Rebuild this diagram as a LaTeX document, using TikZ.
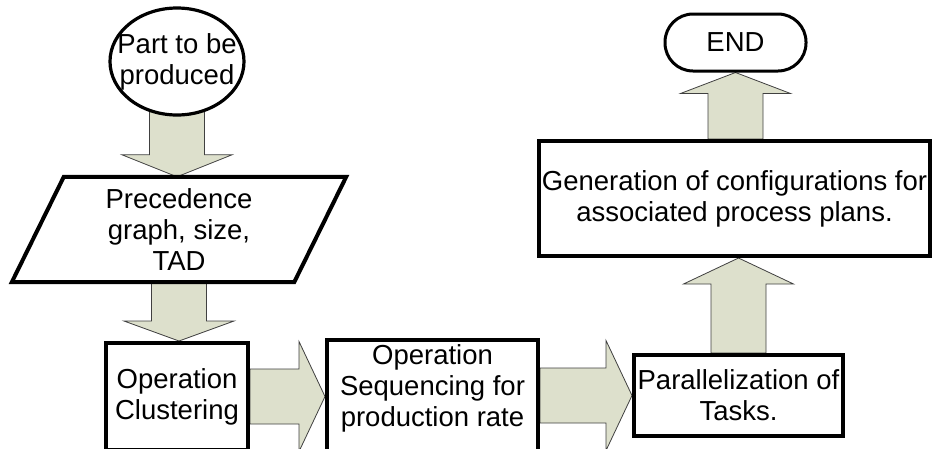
\documentclass[tikz,border=0pt]{standalone}
\usepackage{fontspec}
\setmainfont{Liberation Sans}
\usetikzlibrary{calc}
\pgfdeclarelayer{arrows}
\pgfdeclarelayer{shapes}
\pgfsetlayers{arrows,shapes,main}
\definecolor{arrowfill}{RGB}{221,224,204}
\tikzset{
  stepbox/.style={draw, line width=4pt, fill=white, inner sep=0pt, align=center},
  txt/.style={inner sep=0pt, align=center},
  fatarrow/.style={draw=black!75, line width=0.8pt, fill=arrowfill, line join=miter},
}
% \blockarrow{start}{tip}{head length}: wide hollow arrow with a fixed shaft and head width
\newcommand\blockarrow[3]{%
  \coordinate (hb) at ($(#2)!#3pt!(#1)$);
  \draw[fatarrow] ($(#1)!27.5pt!90:(#2)$) -- ($(hb)!27.5pt!-90:(#1)$)
    -- ($(hb)!55pt!-90:(#1)$) -- (#2) -- ($(hb)!55pt!90:(#1)$)
    -- ($(hb)!27.5pt!90:(#1)$) -- ($(#1)!27.5pt!-90:(#2)$) -- cycle;}
\begin{document}
\begin{tikzpicture}[x=1pt, y=-1pt, font=\fontsize{27.5}{31}\selectfont]
\useasboundingbox (0,0) rectangle (933,448);
\clip (0,0) rectangle (933,448);

% start terminal
\coordinate (c0) at (177,61.5);
\begin{pgfonlayer}{shapes}
  \draw[line width=3.2pt, fill=white] (c0) ellipse [x radius=67, y radius=53.5];
\end{pgfonlayer}
\node[txt, minimum width=134pt, minimum height=107pt] (start) at (c0) {Part to be\\produced};

% input data
\node[txt, minimum width=282pt, minimum height=105pt] (prec) at (179,229.5) {Precedence\\graph, size,\\TAD};
\begin{pgfonlayer}{shapes}
  \draw[line width=4pt, line join=miter, fill=white]
    ($(prec.north west)+(26,0)$) -- ($(prec.north east)+(26,0)$)
    -- ($(prec.south east)+(-26,0)$) -- ($(prec.south west)+(-26,0)$) -- cycle;
\end{pgfonlayer}

% process steps
\node[stepbox, minimum width=142pt, minimum height=107pt] (clus) at (177,396.5) {Operation\\Clustering};
\node[stepbox, minimum width=211pt, minimum height=115pt] (seq) at (432.5,397.5) {};
\node[txt] (seqtext) at (432.5,388) {Operation\\Sequencing for\\production rate};
\node[stepbox, minimum width=209pt, minimum height=81pt] (para) at (738.5,395.5) {Parallelization of\\Tasks.};
\node[stepbox, minimum width=391pt, minimum height=115pt] (gen) at (734.5,198.5) {Generation of configurations for\\associated process plans.};
\node[draw, line width=3pt, fill=white, rounded corners=28pt, minimum width=141pt, minimum height=57pt, inner sep=0pt] (endn) at (735.5,42.5) {END};

% block arrows between the steps
\begin{pgfonlayer}{arrows}
  \fill[white] (0,0) rectangle (933,448);
  \coordinate (a1s) at ($(start.south)+(0,-10)$);
  \coordinate (a1t) at (start.south |- prec.north);
  \blockarrow{a1s}{a1t}{22}
  \coordinate (a2t) at (prec.south |- clus.north);
  \blockarrow{prec.south}{a2t}{20}
  \coordinate (a3t) at (clus.east -| seq.west);
  \blockarrow{clus.east}{a3t}{26}
  \coordinate (a4s) at (para.west -| seq.east);
  \blockarrow{a4s}{para.west}{26}
  \coordinate (a5t) at (para.north |- gen.south);
  \blockarrow{para.north}{a5t}{26}
  \coordinate (a6s) at (endn.south |- gen.north);
  \blockarrow{a6s}{endn.south}{21}
\end{pgfonlayer}
\end{tikzpicture}
\end{document}
